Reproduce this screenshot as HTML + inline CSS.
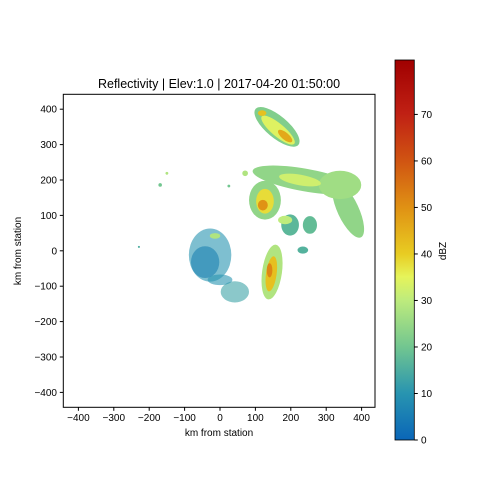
<!DOCTYPE html>
<html><head><meta charset="utf-8"><style>
body{margin:0;background:#fff;}
svg{display:block;font-family:"Liberation Sans","DejaVu Sans",sans-serif;}
</style></head><body>
<svg id="chart" width="504" height="504" viewBox="0 0 504 504">
<defs>
<clipPath id="plotclip"><rect x="63.3" y="94.3" width="311.7" height="313"/></clipPath>
<linearGradient id="cmap" x1="0" y1="1" x2="0" y2="0">
<stop offset="0" stop-color="#0a66b8"/>
<stop offset="0.123" stop-color="#2894b0"/>
<stop offset="0.245" stop-color="#72c690"/>
<stop offset="0.37" stop-color="#bfec7c"/>
<stop offset="0.43" stop-color="#e6f45a"/>
<stop offset="0.49" stop-color="#e8cc22"/>
<stop offset="0.61" stop-color="#e09214"/>
<stop offset="0.735" stop-color="#d05412"/>
<stop offset="0.86" stop-color="#c02014"/>
<stop offset="1" stop-color="#a00000"/>
</linearGradient>
</defs>
<text x="219" y="88" text-anchor="middle" font-size="12.5" fill="#000">Reflectivity | Elev:1.0 | 2017-04-20 01:50:00</text>
<g id="blobs" clip-path="url(#plotclip)"></g>
<rect x="63.3" y="94.3" width="311.7" height="313" fill="none" stroke="#000" stroke-width="1"/>
<g id="xticks"></g>
<g id="yticks"></g>
<text x="219" y="436" text-anchor="middle" font-size="10">km from station</text>
<text transform="translate(21,251) rotate(-90)" text-anchor="middle" font-size="10">km from station</text>
<rect x="395" y="60" width="19.3" height="380" fill="url(#cmap)" stroke="#000" stroke-width="0.8"/>
<g id="cbticks"></g>
<text transform="translate(446,251) rotate(-90)" text-anchor="middle" font-size="10">dBZ</text>
</svg>
<script>
const xTicks=[-400,-300,-200,-100,0,100,200,300,400];
const yTicks=[400,300,200,100,0,-100,-200,-300,-400];
const cbTicks=[0,10,20,30,40,50,60,70];
// storm cells: centre (km), radii (km), rotation (deg), reflectivity (dBZ)
const cellX=[161,164,184,119, 240,362,339,127,127,121,226,198,254,234,184, 71,25,-169,-150,-229, 147,145,140, -28,-42,42,0,-14];
const cellY=[350,341,324,389, 200,115,186,143,140,129,200,73,73,2,87, 219,183,186,219,11, -60,-65,-55, -12,-32,-116,-82,42];
const cellRX=[79,60,25,12, 150,85,60,45,25,14,60,25,20,15,20, 8,4,5,4,3, 28,15,8, 60,40,40,35,15];
const cellRY=[31,18,10,8, 32,30,40,55,35,15,15,30,25,10,12, 8,4,5,4,3, 78,50,20, 75,45,30,15,8];
const cellRot=[-40,-40,-40,0, -10,-65,0,0,0,0,-10,0,0,0,0, 0,0,0,0,0, -8,-8,0, 0,0,0,0,0];
const cellZ=[22,34,46,42, 24,24,26,24,38,50,32,17,18,16,30, 28,20,20,28,15, 28,42,52, 10,6,13,10,28];

const X0=220,Y0=250.8,S=0.354,ZMAX=81.7;
const sx=v=>X0+v*S, sy=v=>Y0-v*S;
const stops=[[0,[10,102,184]],[10,[40,148,176]],[20,[114,198,144]],[30,[191,236,124]],[35,[230,244,90]],[40,[232,204,34]],[50,[224,146,20]],[60,[208,84,18]],[70,[192,32,20]],[81.7,[160,0,0]]];
function cmap(z){for(let i=1;i<stops.length;i++){if(z<=stops[i][0]){const a=stops[i-1],b=stops[i],t=(z-a[0])/(b[0]-a[0]);return 'rgb('+a[1].map((c,k)=>Math.round(c+(b[1][k]-c)*t)).join(',')+')';}}return 'rgb(160,0,0)';}
const NS='http://www.w3.org/2000/svg';
const g=document.getElementById('blobs');
for(let i=0;i<cellX.length;i++){
const e=document.createElementNS(NS,'ellipse');


e.setAttribute('cx',sx(cellX[i]));e.setAttribute('cy',sy(cellY[i]));
e.setAttribute('rx',cellRX[i]*S);e.setAttribute('ry',cellRY[i]*S);
e.setAttribute('transform','rotate('+(-cellRot[i])+' '+sx(cellX[i])+' '+sy(cellY[i])+')');
e.setAttribute('fill',cmap(cellZ[i]));
if(cellZ[i]<15)e.setAttribute('opacity','0.6');
g.appendChild(e);}
const xt=document.getElementById('xticks');
xTicks.forEach(v=>{const x=sx(v);
const l=document.createElementNS(NS,'line');


l.setAttribute('x1',x);l.setAttribute('x2',x);l.setAttribute('y1',407.3);l.setAttribute('y2',410.8);l.setAttribute('stroke','#000');xt.appendChild(l);
const t=document.createElementNS(NS,'text');


t.setAttribute('x',x);t.setAttribute('y',421);t.setAttribute('text-anchor','middle');t.setAttribute('font-size','10');t.textContent=v<0?'\u2212'+(-v):v;xt.appendChild(t);});
const yt=document.getElementById('yticks');
yTicks.forEach(v=>{const y=sy(v);
const l=document.createElementNS(NS,'line');


l.setAttribute('x1',59.8);l.setAttribute('x2',63.3);l.setAttribute('y1',y);l.setAttribute('y2',y);l.setAttribute('stroke','#000');yt.appendChild(l);
const t=document.createElementNS(NS,'text');


t.setAttribute('x',57);t.setAttribute('y',y+3.5);t.setAttribute('text-anchor','end');t.setAttribute('font-size','10');t.textContent=v<0?'\u2212'+(-v):v;yt.appendChild(t);});
const cb=document.getElementById('cbticks');
cbTicks.forEach(v=>{const y=440-v*(380/ZMAX);
const l=document.createElementNS(NS,'line');


l.setAttribute('x1',414.3);l.setAttribute('x2',417.8);l.setAttribute('y1',y);l.setAttribute('y2',y);l.setAttribute('stroke','#000');cb.appendChild(l);
const t=document.createElementNS(NS,'text');


t.setAttribute('x',421);t.setAttribute('y',y+3.5);t.setAttribute('font-size','10');t.textContent=v;cb.appendChild(t);});
</script>
</body></html>
